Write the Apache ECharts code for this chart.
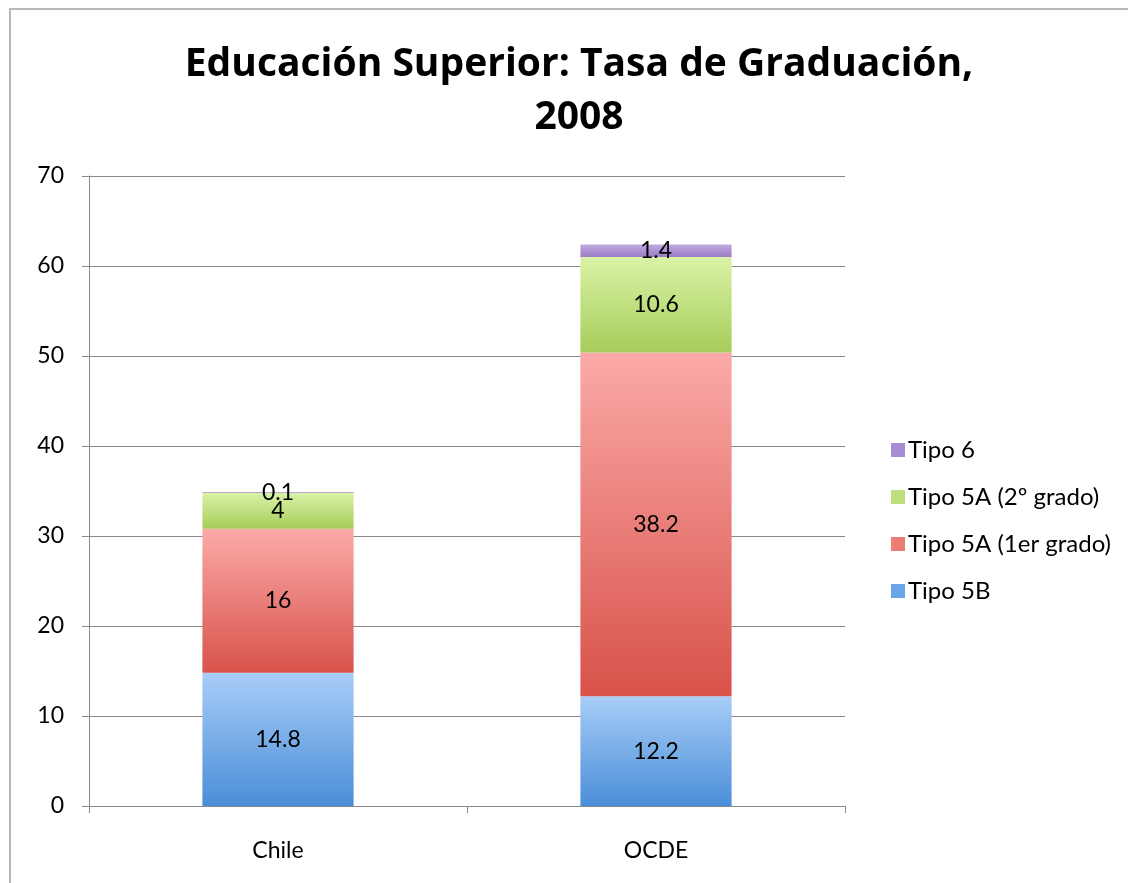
<!DOCTYPE html>
<html>
<head>
<meta charset="utf-8">
<script src="https://cdn.jsdelivr.net/npm/echarts@6/dist/echarts.min.js"></script>
<style>
  html, body { margin: 0; padding: 0; background: #fff; }
  #chart { width: 1128px; height: 883px; }
</style>
</head>
<body>
<div id="chart"></div>
<script>
// datos
var paises = ['Chile', 'OCDE']
var tipo5B = [14.8, 12.2]
var tipo5A1 = [16, 38.2]
var tipo5A2 = [4, 10.6]
var tipo6 = [0.1, 1.4]
var yTicks = [0, 10, 20, 30, 40, 50, 60, 70]

var chart = echarts.init(document.getElementById('chart'))

// degradado vertical para cada segmento
function grad (top, bottom) {
  return new echarts.graphic.LinearGradient(0, 0, 0, 1, [
    { offset: 0, color: top },
    { offset: 1, color: bottom }
  ])
}

var font = 'Lato, "Open Sans", sans-serif'

function serie (name, data, top, bottom) {
  return {
    name: name,
    type: 'bar',
    stack: 'total',
    barWidth: '40%',
    data: data,
    itemStyle: { color: grad(top, bottom) },
    label: {
      show: true,
      position: 'inside',
      color: '#000',
      fontSize: 23,
      fontFamily: font
    }
  }
}

var series = [
  serie('Tipo 5B', tipo5B, '#a8cdf7', '#4a8ed8'),
  serie('Tipo 5A (1er grado)', tipo5A1, '#fbaaa8', '#d8524a'),
  serie('Tipo 5A (2º grado)', tipo5A2, '#daf2a6', '#a6cd5a'),
  serie('Tipo 6', tipo6, '#c0aadf', '#9a7cc6')
]
var nombres = ['Tipo 5B', 'Tipo 5A (1er grado)', 'Tipo 5A (2º grado)', 'Tipo 6']
var iconColors = ['#6aa6e6', '#ec7c76', '#bfe07e', '#a88cd2']

chart.setOption({
  animation: false,
  textStyle: { fontFamily: font },
  title: {
    text: 'Educación Superior: Tasa de Graduación,\n2008',
    left: 574,
    textAlign: 'center',
    top: 33,
    textStyle: {
      fontSize: 39,
      fontWeight: 'bold',
      color: '#000',
      lineHeight: 53,
      fontFamily: '"Open Sans", sans-serif'
    }
  },
  graphic: [{
    type: 'rect',
    shape: { x: 10, y: 9, width: 1200, height: 1000 },
    style: { fill: 'none', stroke: '#b8b8b8', lineWidth: 2 },
    silent: true
  }],
  legend: {
    orient: 'vertical',
    left: 886,
    top: 433,
    itemWidth: 14,
    itemHeight: 14,
    itemGap: 23,
    data: nombres.slice().reverse().map(function (n) {
      return { name: n, icon: 'rect', itemStyle: { color: iconColors[nombres.indexOf(n)] } }
    }),
    textStyle: { fontSize: 24, color: '#000', fontFamily: font, padding: [0, 0, 0, -2] }
  },
  grid: { left: 89, top: 176, right: 283, bottom: 77 },
  xAxis: {
    type: 'category',
    data: paises,
    axisLine: { lineStyle: { color: '#888' } },
    axisTick: { show: true, length: 7, lineStyle: { color: '#888' } },
    axisLabel: { fontSize: 23, color: '#000', margin: 33, fontFamily: font }
  },
  yAxis: {
    type: 'value',
    min: yTicks[0],
    max: yTicks[yTicks.length - 1],
    interval: 10,
    axisLine: { show: true, lineStyle: { color: '#888' } },
    axisTick: { show: true, length: 7, lineStyle: { color: '#888' } },
    splitLine: { lineStyle: { color: '#888' } },
    axisLabel: { fontSize: 23, color: '#000', margin: 25, fontFamily: font }
  },
  series: series
})
</script>
</body>
</html>
